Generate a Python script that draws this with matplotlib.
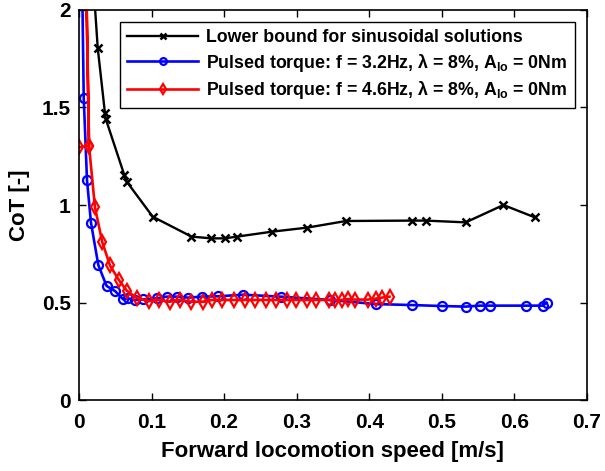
import numpy as np
import matplotlib
matplotlib.use("Agg")
import matplotlib.pyplot as plt

plt.rcParams['font.family'] = ['Liberation Sans', 'DejaVu Sans']
plt.rcParams['font.weight'] = 'bold'
plt.rcParams['mathtext.fontset'] = 'custom'
plt.rcParams['mathtext.rm'] = 'Liberation Sans:bold'
plt.rcParams['mathtext.it'] = 'Liberation Sans:bold'
plt.rcParams['mathtext.bf'] = 'Liberation Sans:bold'

# Lower bound for sinusoidal solutions
sin_speed = [0.015, 0.0258, 0.0358, 0.037, 0.0624, 0.0657, 0.1016, 0.155, 0.182,
             0.201, 0.218, 0.2655, 0.3146, 0.368, 0.459, 0.478, 0.533, 0.585, 0.628]
sin_cot = [2.4, 1.805, 1.47, 1.44, 1.154, 1.12, 0.94, 0.838, 0.829,
           0.829, 0.838, 0.863, 0.884, 0.918, 0.92, 0.92, 0.911, 1.0, 0.937]

# Pulsed torque, f = 3.2 Hz
p32_speed = [0.003, 0.0065, 0.011, 0.0165, 0.0266, 0.038, 0.0496, 0.061, 0.068,
             0.077, 0.0886, 0.107, 0.121, 0.1346, 0.1506, 0.169, 0.192, 0.2264,
             0.278, 0.3463, 0.409, 0.459, 0.4998, 0.533, 0.5526, 0.566, 0.616,
             0.639, 0.6445]
p32_cot = [2.5, 1.55, 1.128, 0.909, 0.692, 0.585, 0.559, 0.516, 0.521,
           0.513, 0.516, 0.521, 0.53, 0.53, 0.525, 0.53, 0.532, 0.54,
           0.53, 0.513, 0.492, 0.487, 0.482, 0.479, 0.484, 0.484, 0.484,
           0.484, 0.499]

# Pulsed torque, f = 4.6 Hz
p46_speed = [0.0, 0.0138, 0.009, 0.0138, 0.022, 0.032, 0.0427, 0.055, 0.066, 0.080,
             0.096, 0.110, 0.125, 0.139, 0.155, 0.171, 0.183, 0.197, 0.213,
             0.229, 0.243, 0.258, 0.272, 0.286, 0.299, 0.314, 0.327, 0.344,
             0.353, 0.362, 0.371, 0.380, 0.398, 0.409, 0.417, 0.428]
p46_cot = [1.296, 1.303, 2.35, 1.303, 0.988, 0.81, 0.69, 0.615, 0.56, 0.523,
           0.507, 0.513, 0.504, 0.513, 0.504, 0.504, 0.513, 0.513, 0.513,
           0.513, 0.513, 0.513, 0.513, 0.513, 0.513, 0.513, 0.513, 0.513,
           0.513, 0.513, 0.518, 0.515, 0.515, 0.52, 0.525, 0.53]

x_ticks = [0, 0.1, 0.2, 0.3, 0.4, 0.5, 0.6, 0.7]
x_tick_labels = ['0', '0.1', '0.2', '0.3', '0.4', '0.5', '0.6', '0.7']
y_ticks = [0, 0.5, 1, 1.5, 2]
y_tick_labels = ['0', '0.5', '1', '1.5', '2']

fig = plt.figure(figsize=(6.05, 4.71), dpi=100)
ax = fig.add_axes([0.1306, 0.1507, 0.8394, 0.8281])

ax.plot(sin_speed, sin_cot, color='black', lw=1.7, marker='x', ms=6, mew=1.8,
        label='Lower bound for sinusoidal solutions')
ax.plot(p32_speed, p32_cot, color='#0000ff', lw=1.9, marker='o', ms=6.5, mew=1.6,
        mfc='none', label='Pulsed torque: f = 3.2Hz, λ = 8%, A$_{lo}$ = 0Nm')
ax.plot(p46_speed, p46_cot, color='#ff0000', lw=1.9, marker='d', ms=7, mew=1.6,
        mfc='none', label='Pulsed torque: f = 4.6Hz, λ = 8%, A$_{lo}$ = 0Nm')

ax.set_xlim(0, 0.7)
ax.set_ylim(0, 2)
ax.set_xticks(x_ticks)
ax.set_xticklabels(x_tick_labels)
ax.set_yticks(y_ticks)
ax.set_yticklabels(y_tick_labels)
ax.tick_params(direction='in', top=True, right=True, length=5, width=1,
               labelsize=15, pad=6)
ax.tick_params(axis='x', pad=9)
for s in ax.spines.values():
    s.set_linewidth(1.2)

ax.set_xlabel('Forward locomotion speed [m/s]', fontsize=16, fontweight='bold', labelpad=7)
ax.set_ylabel('CoT [-]', fontsize=16, fontweight='bold', labelpad=8)

leg = ax.legend(loc='upper right', bbox_to_anchor=(0.976, 0.969), borderaxespad=0,
                fontsize=12.8, fancybox=False, edgecolor='black', framealpha=1,
                handlelength=4.0, handletextpad=0.45, borderpad=0.4,
                labelspacing=0.3, markerscale=0.75)
leg.get_frame().set_linewidth(1.0)

fig.savefig('out.png', dpi=100)
